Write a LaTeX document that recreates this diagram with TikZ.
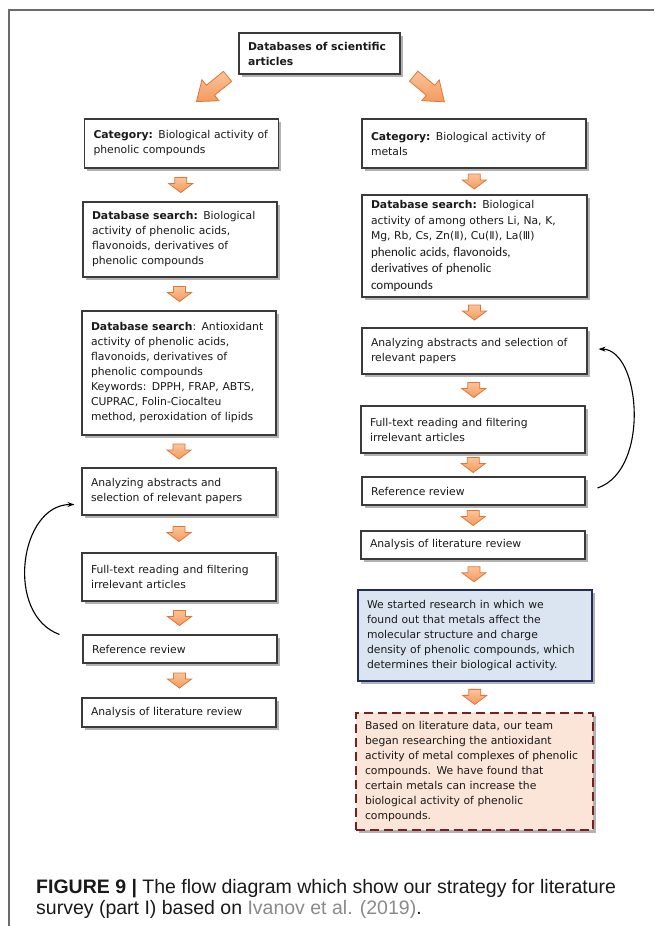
\documentclass[tikz,border=0pt]{standalone}
\usepackage{fontspec}
\setmainfont{DejaVu Sans}
\newfontfamily\capfont{Liberation Sans}
\newfontfamily\calfont{Carlito}
\usetikzlibrary{shadows,calc,arrows.meta}
\definecolor{boxline}{HTML}{3A3A3A}
\definecolor{textcol}{HTML}{1A1A1A}
\definecolor{arrtop}{HTML}{FBC49A}
\definecolor{arrbot}{HTML}{F39A5E}
\definecolor{arrline}{HTML}{DF7636}
\definecolor{bluefill}{HTML}{DBE5F1}
\definecolor{blueline}{HTML}{1F2D5C}
\definecolor{peachfill}{HTML}{FBE4D8}
\definecolor{dashline}{HTML}{7A1F1F}
\definecolor{framecol}{HTML}{6B6B6B}
\definecolor{capgray}{HTML}{8A8A8A}
\begin{document}
\begin{tikzpicture}[x=1pt,y=-1pt,
  box/.style={draw=boxline, line width=1.1pt, fill=white, inner xsep=9pt, inner ysep=2pt,
    align=left, font=\fontsize{10.8}{15}\selectfont, text=textcol,
    drop shadow={shadow xshift=2.5pt, shadow yshift=-2.5pt, opacity=0.3, fill=black}},
  arrstyle/.style={draw=arrline, line width=0.8pt, line join=miter, top color=arrtop, bottom color=arrbot},
  downarrow/.pic={\path[arrstyle] (-6,-7.5) -- (6,-7.5) -- (6,-1.5) -- (12,-1.5) -- (0,7.5)
      -- (-12,-1.5) -- (-6,-1.5) -- cycle;},
  bigarrow/.pic={\path[arrstyle] (-6.5,-20) -- (6.5,-20) -- (6.5,2) -- (13.5,2) -- (0,20)
      -- (-13.5,2) -- (-6.5,2) -- cycle;},
  loopline/.style={black, line width=1.1pt, -{Stealth[length=7pt,width=5pt]}},
  frameline/.style={framecol, line width=1.3pt}]
\useasboundingbox[fill=white] (0,0) rectangle (654,926);
\draw[frameline] (9,926) -- (9,10) -- (654,10);

% top
\node[box, text width=143pt, minimum height=41pt] (T) at (319.5,53.5)
  {\textbf{Databases of scientific}\\\textbf{articles}};

% left column
\node[box, text width=176pt, minimum height=49pt] (L1) at (181.5,143.5)
  {\textbf{Category:} Biological activity of\\phenolic compounds};
\node[box, text width=176pt, minimum height=75pt] (L2) at (180,239.5)
  {\textbf{Database search:} Biological\\activity of phenolic acids,\\flavonoids, derivatives of\\phenolic compounds};
\node[box, text width=176pt, minimum height=124pt] (L3) at (179,373)
  {\textbf{Database search}: Antioxidant\\activity of phenolic acids,\\flavonoids, derivatives of\\phenolic compounds\\Keywords: DPPH, FRAP, ABTS,\\CUPRAC, Folin-Ciocalteu\\method, peroxidation of lipids};
\node[box, text width=176pt, minimum height=47pt] (L4) at (179,491.5)
  {Analyzing abstracts and\\selection of relevant papers};
\node[box, text width=176pt, minimum height=48pt] (L5) at (179,577)
  {Full-text reading and filtering\\irrelevant articles};
\node[box, text width=176pt, minimum height=28pt] (L6) at (180,649)
  {Reference review};
\node[box, text width=176pt, minimum height=29pt] (L7) at (179,712.5)
  {Analysis of literature review};

% right column
\node[box, text width=206pt, minimum height=49pt] (R1) at (474,143.5)
  {\textbf{Category:} Biological activity of\\metals};
\node[box, text width=207pt, minimum height=102pt] (R2) at (474.5,246)
  {{\fontsize{10.8}{15.5}\selectfont\textbf{Database search:} Biological\\activity of among others Li, Na, K,\\Mg, Rb, Cs, Zn(Ⅱ), Cu(Ⅱ), La(Ⅲ)\par}%
   {\calfont\fontsize{13}{16.5}\selectfont phenolic acids, flavonoids,\\derivatives of phenolic\\compounds\par}};
\node[box, text width=207pt, minimum height=46pt] (R3) at (474.5,351)
  {Analyzing abstracts and selection of\\relevant papers};
\node[box, text width=206pt, minimum height=47pt] (R4) at (473,429.5)
  {Full-text reading and filtering\\irrelevant articles};
\node[box, text width=205pt, minimum height=28pt] (R5) at (473.5,491)
  {Reference review};
\node[box, text width=206pt, minimum height=28pt] (R6) at (473,545)
  {Analysis of literature review};
\node[box, draw=blueline, line width=2pt, fill=bluefill, text width=216pt, minimum height=91pt] (R7) at (475,635.5)
  {We started research in which we\\found out that metals affect the\\molecular structure and charge\\density of phenolic compounds, which\\determines their biological activity.};
\node[box, draw=dashline, line width=2.5pt, dash pattern=on 9pt off 5pt, fill=peachfill, text width=219pt, minimum height=117pt] (R8) at (474.5,771.5)
  {Based on literature data, our team\\began researching the antioxidant\\activity of metal complexes of phenolic\\compounds. We have found that\\certain metals can increase the\\biological activity of phenolic\\compounds.};

% block arrows
\pic[rotate=-51] at (212,89) {bigarrow};
\pic[rotate=50] at (429,89) {bigarrow};
\foreach \a/\b in {L1/L2,L2/L3,L3/L4,L4/L5,L5/L6,L6/L7,R1/R2,R2/R3,R3/R4,R4/R5,R5/R6,R6/R7,R7/R8}
  \pic at ($(\a.south)!0.5!(\b.north)$) {downarrow};

% feedback loops
\draw[loopline] ($(L6.north west)+(-23,0)$) .. controls +(-55,-20) and +(-55,0) .. ($(L4.west)+(-7,13)$);
\draw[loopline] ($(R5.east)+(12,-3)$) .. controls +(53,-18) and +(42,1) .. ($(R3.east)+(11,-2)$);

% caption
\node[anchor=base west, inner sep=0pt, font=\capfont\fontsize{19.5}{21}\selectfont, text=textcol] (cap1) at (36,893)
  {\textbf{FIGURE 9 |} The flow diagram which show our strategy for literature};
\node[anchor=base west, inner sep=0pt, font=\capfont\fontsize{19.5}{21}\selectfont, text=textcol] (cap2) at (36,914)
  {survey (part I) based on \textcolor{capgray}{Ivanov et al. (2019)}.};
\end{tikzpicture}
\end{document}
